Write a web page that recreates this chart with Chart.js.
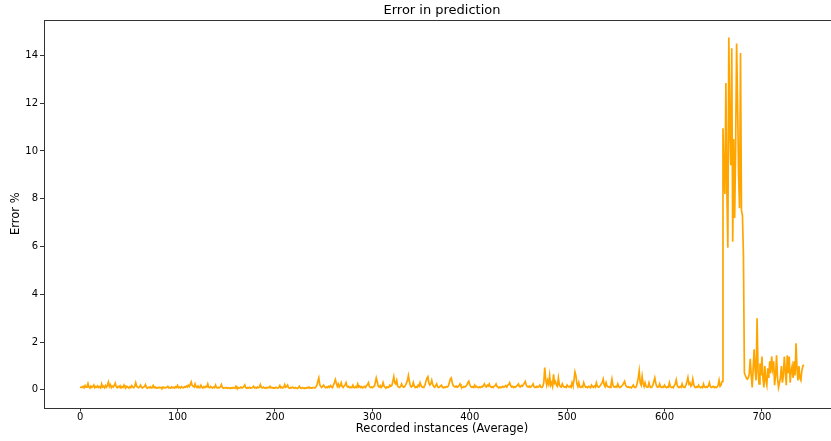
<!DOCTYPE html>
<html>
<head>
<meta charset="utf-8">
<title>Error in prediction</title>
<script src="https://cdn.jsdelivr.net/npm/chart.js"></script>
<style>
  body { margin: 0; background: #fff; overflow: hidden; }
  #wrap { width: 831px; height: 441px; overflow: hidden; }
</style>
</head>
<body>
<div id="wrap"><canvas id="myChart" width="840" height="441"></canvas></div>
<script>
// error % per recorded instance in chunks
// instances 0 - 239
var baseA = [
  0.08,0.12,0.1,0.15,0.09,0.18,0.11,0.14,0.27,0.12,0.08,0.16,0.1,0.13,0.2,0.09,0.14,0.11,0.17,0.1,
  0.13,0.08,0.25,0.12,0.15,0.09,0.18,0.11,0.2,0.33,0.14,0.22,0.1,0.16,0.12,0.19,0.28,0.13,0.09,0.15,
  0.11,0.17,0.08,0.13,0.1,0.2,0.12,0.09,0.15,0.11,0.07,0.14,0.1,0.18,0.12,0.09,0.16,0.3,0.15,0.11,
  0.09,0.13,0.2,0.1,0.08,0.12,0.14,0.22,0.1,0.07,0.11,0.09,0.13,0.08,0.1,0.18,0.09,0.12,0.07,0.1,
  0.08,0.11,0.09,0.1,0.07,0.12,0.08,0.1,0.09,0.11,0.15,0.08,0.1,0.07,0.12,0.09,0.11,0.08,0.13,0.1,
  0.18,0.09,0.12,0.08,0.14,0.1,0.09,0.13,0.11,0.16,0.12,0.2,0.14,0.22,0.33,0.18,0.15,0.12,0.25,0.13,
  0.1,0.16,0.09,0.12,0.2,0.11,0.08,0.13,0.1,0.15,0.12,0.25,0.11,0.09,0.14,0.1,0.08,0.12,0.09,0.2,
  0.1,0.08,0.11,0.09,0.13,0.22,0.1,0.07,0.09,0.08,0.1,0.07,0.09,0.08,0.06,0.09,0.07,0.1,0.08,0.07,
  0.15,0.08,0.1,0.07,0.09,0.12,0.08,0.1,0.13,0.2,0.09,0.07,0.1,0.08,0.11,0.07,0.09,0.1,0.15,0.08,
  0.1,0.07,0.12,0.09,0.11,0.22,0.1,0.08,0.12,0.09,0.07,0.1,0.08,0.11,0.09,0.15,0.08,0.1,0.07,0.09,
  0.08,0.11,0.09,0.07,0.1,0.18,0.09,0.12,0.08,0.1,0.22,0.11,0.14,0.2,0.09,0.07,0.1,0.08,0.12,0.09,
  0.07,0.1,0.08,0.06,0.09,0.15,0.08,0.07,0.1,0.08,0.06,0.09,0.07,0.1,0.08,0.12,0.07,0.09,0.08,0.1
];
// instances 240 - 459
var baseB = [
  0.1,0.08,0.12,0.2,0.35,0.5,0.22,0.14,0.1,0.16,0.2,0.12,0.09,0.13,0.1,0.15,0.11,0.18,0.12,0.09,
  0.2,0.3,0.43,0.28,0.15,0.25,0.12,0.18,0.3,0.14,0.1,0.16,0.2,0.3,0.15,0.11,0.13,0.09,0.12,0.1,
  0.2,0.11,0.09,0.14,0.1,0.25,0.12,0.16,0.1,0.13,0.08,0.12,0.15,0.1,0.18,0.22,0.3,0.14,0.1,0.12,
  0.09,0.13,0.15,0.3,0.5,0.35,0.15,0.12,0.18,0.1,0.14,0.3,0.16,0.11,0.09,0.13,0.1,0.12,0.2,0.15,
  0.18,0.35,0.55,0.3,0.25,0.4,0.16,0.12,0.1,0.14,0.25,0.15,0.11,0.13,0.2,0.28,0.4,0.6,0.35,0.18,
  0.12,0.15,0.3,0.16,0.1,0.13,0.11,0.2,0.15,0.3,0.18,0.12,0.1,0.14,0.2,0.35,0.48,0.55,0.3,0.2,
  0.25,0.4,0.22,0.14,0.11,0.18,0.25,0.12,0.1,0.13,0.16,0.2,0.11,0.09,0.12,0.1,0.14,0.12,0.16,0.3,
  0.45,0.5,0.3,0.18,0.14,0.12,0.16,0.11,0.13,0.18,0.25,0.15,0.12,0.1,0.14,0.12,0.16,0.2,0.3,0.36,
  0.22,0.14,0.11,0.13,0.1,0.2,0.12,0.15,0.11,0.09,0.13,0.1,0.14,0.12,0.18,0.25,0.15,0.12,0.2,0.16,
  0.25,0.14,0.11,0.13,0.1,0.15,0.18,0.25,0.14,0.11,0.1,0.13,0.09,0.12,0.15,0.11,0.14,0.18,0.12,0.2,
  0.22,0.3,0.18,0.12,0.15,0.1,0.13,0.11,0.16,0.2,0.25,0.14,0.12,0.18,0.15,0.22,0.28,0.35,0.2,0.14
];
// instances 460 - 657
var baseC = [
  0.12,0.16,0.11,0.14,0.18,0.25,0.13,0.1,0.12,0.15,0.11,0.14,0.2,0.12,0.1,0.15,0.3,0.93,0.45,0.2,
  0.4,0.25,0.6,0.2,0.3,0.15,0.65,0.28,0.35,0.2,0.15,0.5,0.22,0.14,0.12,0.25,0.16,0.11,0.13,0.1,
  0.2,0.14,0.12,0.16,0.11,0.3,0.18,0.4,0.75,0.6,0.25,0.14,0.3,0.12,0.1,0.15,0.12,0.3,0.18,0.11,
  0.13,0.1,0.15,0.12,0.09,0.2,0.14,0.11,0.16,0.12,0.3,0.15,0.11,0.13,0.18,0.25,0.3,0.45,0.22,0.14,
  0.3,0.16,0.12,0.14,0.1,0.22,0.45,0.2,0.13,0.11,0.15,0.12,0.25,0.14,0.1,0.12,0.16,0.2,0.28,0.36,
  0.2,0.14,0.11,0.13,0.1,0.12,0.09,0.14,0.2,0.11,0.1,0.13,0.3,0.5,0.79,0.3,0.2,0.56,0.25,0.14,
  0.3,0.15,0.11,0.13,0.29,0.14,0.1,0.12,0.2,0.35,0.5,0.28,0.14,0.11,0.13,0.25,0.12,0.1,0.14,0.11,
  0.2,0.12,0.09,0.13,0.11,0.3,0.14,0.1,0.12,0.09,0.18,0.25,0.42,0.2,0.12,0.1,0.14,0.11,0.25,0.13,
  0.1,0.14,0.2,0.35,0.52,0.25,0.3,0.15,0.2,0.45,0.22,0.12,0.1,0.13,0.11,0.2,0.12,0.09,0.13,0.1,
  0.25,0.12,0.1,0.14,0.11,0.16,0.3,0.14,0.1,0.12,0.15,0.1,0.13,0.09,0.12,0.2,0.4,0.15
];
// instances 658 - 682, the big jump
var spike = [
  0.2,0.35,10.95,9.0,8.2,12.85,8.3,5.95,14.75,11.0,9.4,14.3,6.2,10.5,7.2,10.2,14.5,12.0,9.0,7.6,
  14.1,7.5,7.3,5.65,0.7
];
// instances 683 - 743
var tail = [
  0.6,0.5,0.45,0.5,0.7,1.3,0.6,0.1,0.9,1.7,0.8,0.4,3.0,0.8,0.25,1.1,0.6,1.4,0.5,0.1,
  1.0,0.4,0.2,0.9,0.5,1.2,0.7,1.4,0.9,1.2,0.2,0.6,1.45,0.5,0.1,0.3,0.5,1.0,0.3,0.6,
  1.4,0.8,0.2,1.45,0.7,1.4,0.3,0.8,1.0,0.5,1.2,0.6,1.95,0.9,0.4,1.0,0.5,0.4,0.8,1.0,
  1.05
];

var xTicks = [0, 100, 200, 300, 400, 500, 600, 700];
var yTicks = [0, 2, 4, 6, 8, 10, 12, 14];

var errorValues = baseA.concat(baseB, baseC, spike, tail);
var points = errorValues.map(function (v, i) { return { x: i, y: v }; });

// matplotlib style 5% margins round the data
var last = errorValues.length - 1;
var yTop = Math.max.apply(null, errorValues);
var xPad = last * 0.05;
var yPad = yTop * 0.05;

var fontFamily = "'DejaVu Sans', sans-serif";
var spineColor = "#333";

// draws the box round the plot (all four spines)
var frame = {
  id: "frame",
  afterDraw: function (chart) {
    var a = chart.chartArea;
    var ctx = chart.ctx;
    ctx.save();
    ctx.strokeStyle = spineColor;
    ctx.lineWidth = 1;
    ctx.strokeRect(Math.round(a.left) + 0.5, Math.round(a.top) + 0.5, Math.round(a.right - a.left), Math.round(a.bottom - a.top));
    ctx.restore();
  }
};

var ctx = document.getElementById("myChart").getContext("2d");
var chart = new Chart(ctx, {
  type: "line",
  data: {
    datasets: [{
      label: "Error %",
      data: points,
      borderColor: "#FFA500",
      borderWidth: 1.7,
      pointRadius: 0,
      tension: 0,
      fill: false
    }]
  },
  options: {
    responsive: false,
    animation: false,
    layout: { padding: 0 },
    plugins: {
      legend: { display: false },
      tooltip: { enabled: false },
      title: {
        display: true,
        text: "Error in prediction",
        fullSize: false,
        color: "#000",
        font: { family: fontFamily, size: 13, weight: "normal", lineHeight: 1.2 },
        padding: { top: 3, bottom: 1.3 }
      }
    },
    scales: {
      x: {
        type: "linear",
        min: -xPad,
        max: last + xPad,
        afterFit: function (scale) { scale.height = 33.5; },
        afterBuildTicks: function (scale) {
          scale.ticks = xTicks.map(function (v) { return { value: v }; });
        },
        ticks: { color: "#000", font: { family: fontFamily, size: 10 }, padding: 0, maxRotation: 0 },
        grid: { display: true, drawOnChartArea: false, tickLength: 4, color: spineColor },
        border: { display: false },
        title: {
          display: true,
          text: "Recorded instances (Average)",
          color: "#000",
          font: { family: fontFamily, size: 11.5, lineHeight: 1.2 },
          padding: { top: 0, bottom: 5 }
        }
      },
      y: {
        min: -yPad,
        max: yTop + yPad,
        afterFit: function (scale) { scale.width = 44; },
        afterBuildTicks: function (scale) {
          scale.ticks = yTicks.map(function (v) { return { value: v }; });
        },
        ticks: { color: "#000", font: { family: fontFamily, size: 10 }, padding: 2 },
        grid: { display: true, drawOnChartArea: false, tickLength: 4, color: spineColor },
        border: { display: false },
        title: {
          display: true,
          text: "Error %",
          color: "#000",
          font: { family: fontFamily, size: 11.5, lineHeight: 1.2 },
          padding: { top: 9, bottom: 0 }
        }
      }
    }
  },
  plugins: [frame]
});
</script>
</body>
</html>
